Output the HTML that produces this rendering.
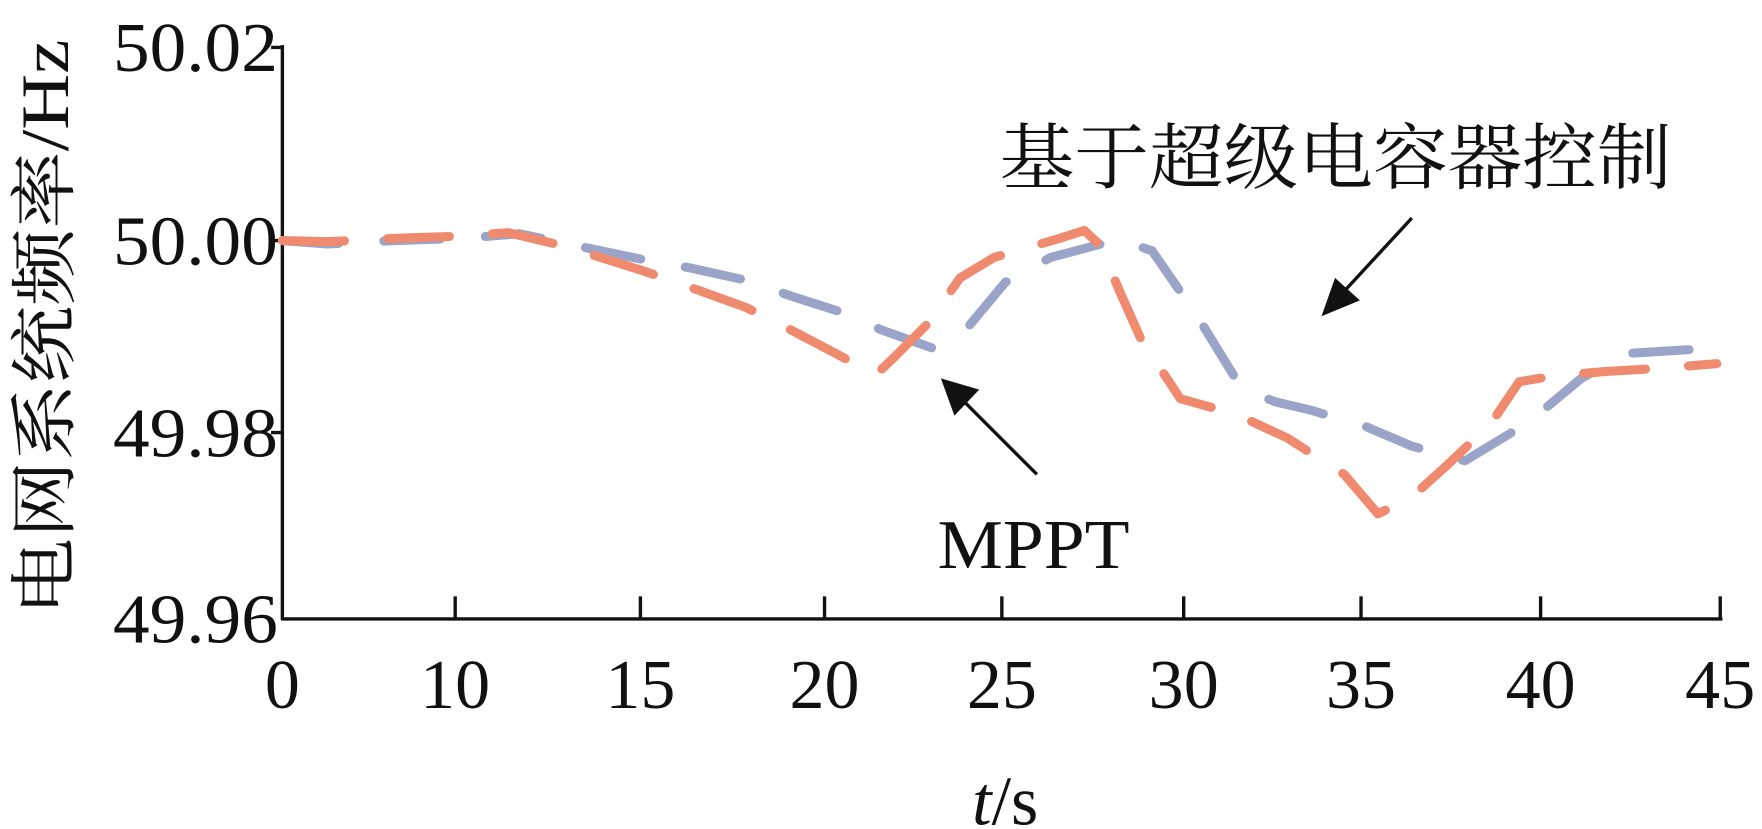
<!DOCTYPE html>
<html><head><meta charset="utf-8"><style>
html,body{margin:0;padding:0;background:#fff;}
svg{display:block;}
text{font-family:"Liberation Serif","Noto Serif CJK SC",serif;fill:#111;}
</style></head><body>
<svg width="1762" height="829" viewBox="0 0 1560 734" preserveAspectRatio="none" xmlns="http://www.w3.org/2000/svg">
<g stroke="#111" stroke-width="3" fill="none">
<line x1="250" y1="40" x2="250" y2="549"/>
<line x1="249" y1="548" x2="1525" y2="548"/>
<line x1="250" y1="42" x2="240" y2="42"/>
<line x1="250" y1="213" x2="240" y2="213"/>
<line x1="250" y1="383" x2="240" y2="383"/>
<line x1="403" y1="548" x2="403" y2="528"/>
<line x1="567" y1="548" x2="567" y2="528"/>
<line x1="730" y1="548" x2="730" y2="528"/>
<line x1="887" y1="548" x2="887" y2="528"/>
<line x1="1048" y1="548" x2="1048" y2="528"/>
<line x1="1205" y1="548" x2="1205" y2="528"/>
<line x1="1364" y1="548" x2="1364" y2="528"/>
<line x1="1523" y1="548" x2="1523" y2="528"/>
</g>
<g font-size="62" text-anchor="end">
<text x="246" y="63" textLength="146" lengthAdjust="spacingAndGlyphs">50.02</text>
<text x="246" y="234" textLength="146" lengthAdjust="spacingAndGlyphs">50.00</text>
<text x="246" y="404" textLength="146" lengthAdjust="spacingAndGlyphs">49.98</text>
<text x="246" y="569" textLength="146" lengthAdjust="spacingAndGlyphs">49.96</text>
</g>
<g font-size="62" text-anchor="middle">
<text x="250" y="627">0</text>
<text x="403" y="627">10</text>
<text x="567" y="627">15</text>
<text x="730" y="627">20</text>
<text x="887" y="627">25</text>
<text x="1048" y="627">30</text>
<text x="1205" y="627">35</text>
<text x="1364" y="627">40</text>
<text x="1523" y="627">45</text>
<text x="890" y="730"><tspan font-style="italic">t</tspan>/s</text>
</g>
<text transform="translate(60,545) rotate(-90)" font-size="60" textLength="510" lengthAdjust="spacingAndGlyphs">电网系统频率/Hz</text>
<text x="885" y="162" font-size="64" textLength="595" lengthAdjust="spacingAndGlyphs">基于超级电容器控制</text>
<text x="830" y="503" font-size="62" textLength="170" lengthAdjust="spacingAndGlyphs">MPPT</text>
<polyline fill="none" stroke="#9aa3c8" stroke-width="8" stroke-dasharray="50,40" stroke-linecap="round" stroke-linejoin="round"
points="250,213 290,216 350,213 410,211 460,207 570,230 610,237 660,248 700,262 750,278 780,292 825,308 855,292 890,250 930,228 990,212 1020,222 1060,280 1100,345 1130,356 1160,363 1210,378 1250,395 1297,408 1340,382 1370,360 1400,335 1440,313 1505,309"/>
<polyline fill="none" stroke="#f08a6e" stroke-width="8" stroke-dasharray="55,38" stroke-linecap="round" stroke-linejoin="round"
points="250,213 290,214 350,211 410,209 450,206 500,218 570,240 610,254 660,272 700,292 740,313 775,332 790,318 822,286 850,246 880,228 935,212 960,204 975,218 990,255 1010,300 1045,353 1095,367 1140,388 1190,420 1220,455 1250,440 1280,413 1320,375 1345,338 1375,333 1420,329 1470,326 1520,322"/>
<g stroke="#111" stroke-width="3">
<line x1="1250" y1="193" x2="1190" y2="258"/>
<line x1="918" y1="420" x2="853" y2="355"/>
</g>
<polygon points="1170,280 1182,246 1204,266" fill="#111"/>
<polygon points="833,335 867,345 845,368" fill="#111"/>
</svg>
</body></html>
